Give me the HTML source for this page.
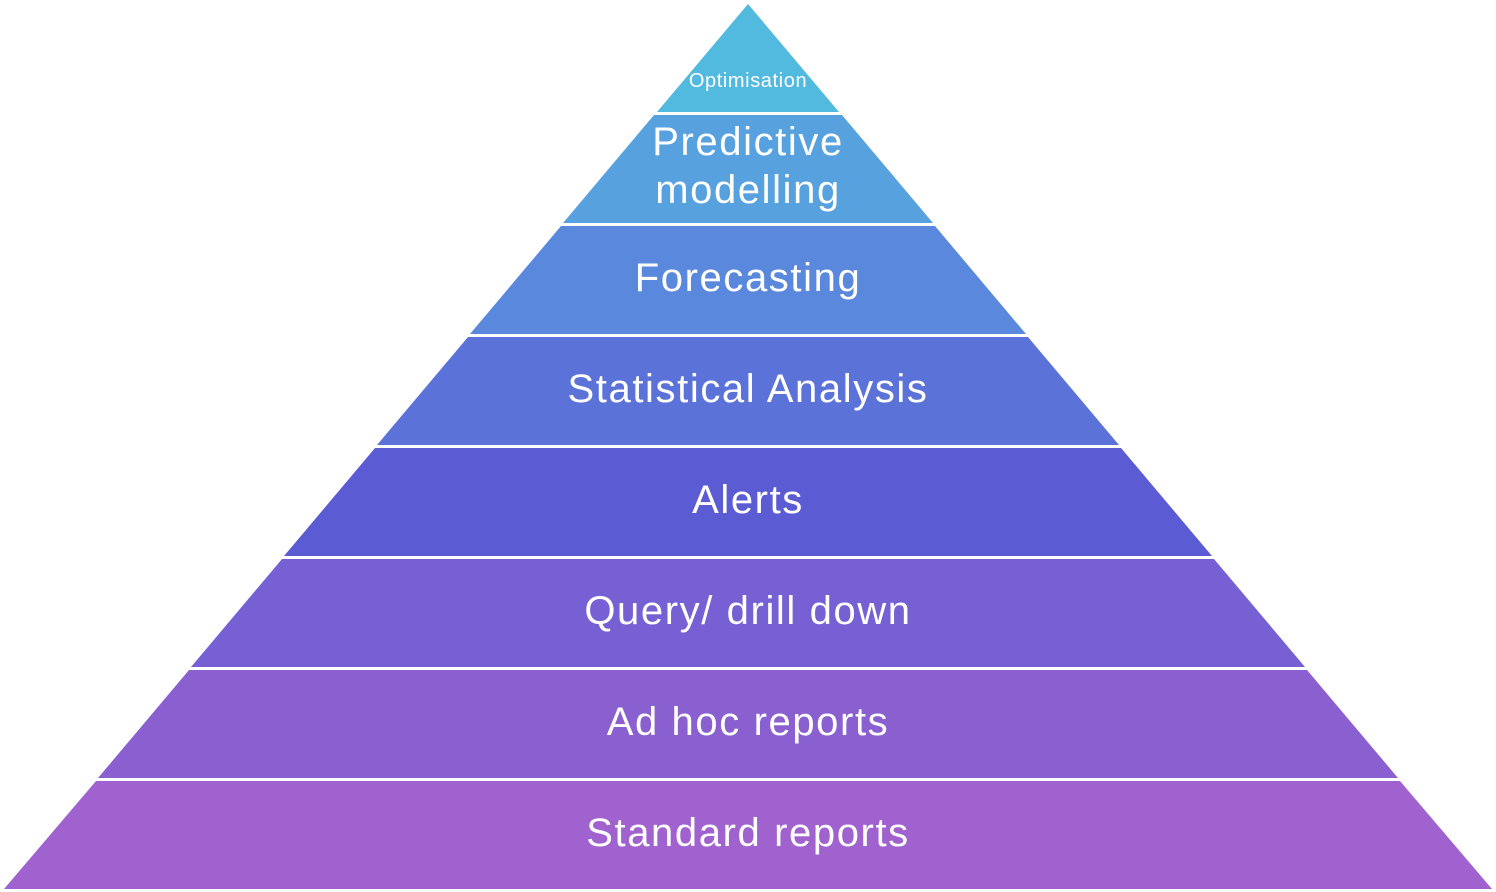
<!DOCTYPE html>
<html><head><meta charset="utf-8"><style>
html,body{margin:0;padding:0;background:#fff;}
svg{display:block;}
text{font-family:"Liberation Sans",sans-serif;fill:#fff;text-anchor:middle;dominant-baseline:central;letter-spacing:1.6px;}
</style></head><body>
<svg width="1496" height="892" viewBox="0 0 1496 892" xmlns="http://www.w3.org/2000/svg">
<polygon points="748,4 839,112 657,112" fill="#52BADE"/>
<polygon points="654,115 842,115 933,223 563,223" fill="#57A1DE"/>
<polygon points="561,226 935,226 1026,334 470,334" fill="#5A88DC"/>
<polygon points="468,337 1028,337 1119,445 377,445" fill="#5B72D9"/>
<polygon points="375,448 1121,448 1212,556 284,556" fill="#5B5BD3"/>
<polygon points="282,559 1214,559 1305,667 191,667" fill="#7660D4"/>
<polygon points="189,670 1307,670 1398,778 98,778" fill="#8A5FD0"/>
<polygon points="96,781 1400,781 1492,889 4,889" fill="#A062CE"/>
<text x="748" y="81" font-size="20" style="letter-spacing:0.6px">Optimisation</text>
<text x="748" y="142" font-size="40">Predictive</text>
<text x="748" y="190" font-size="40">modelling</text>
<text x="748" y="278" font-size="40">Forecasting</text>
<text x="748" y="389" font-size="40">Statistical Analysis</text>
<text x="748" y="500" font-size="40">Alerts</text>
<text x="748" y="611" font-size="40">Query/ drill down</text>
<text x="748" y="722" font-size="40">Ad hoc reports</text>
<text x="748" y="833" font-size="40">Standard reports</text>
</svg>
</body></html>
